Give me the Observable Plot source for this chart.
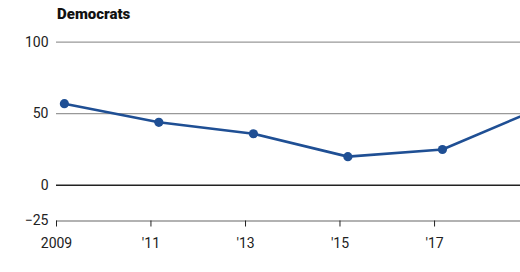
<!DOCTYPE html>
<html>
<head>
<meta charset="utf-8">
<script src="https://cdn.jsdelivr.net/npm/d3@7"></script>
<script src="https://cdn.jsdelivr.net/npm/@observablehq/plot@0.6"></script>
<style>
  html, body { margin: 0; padding: 0; overflow: hidden; background: #fff; }
  #wrap { width: 520px; height: 272px; overflow: hidden; position: relative; }
  #title { height: 24px; line-height: 29px; padding-left: 57px; font-family: Roboto, "Liberation Sans", sans-serif; font-weight: 900; font-size: 15px; color: #111; white-space: nowrap; }
  #chart svg { display: block; max-width: none !important; width: 560px !important; height: 248px !important; }
</style>
</head>
<body>
<div id="wrap">
  <div id="title">Democrats</div>
  <div id="chart"></div>
</div>
<script>
// Data
const surveyDates = ["2009-03-03", "2011-03-03", "2013-03-03", "2015-03-03", "2017-03-03", "2019-03-03"];
const democrats = [57, 44, 36, 20, 25, 53];
const xTickYears = [2009, 2011, 2013, 2015, 2017, 2019];
const xTickLabels = ["2009", "'11", "'13", "'15", "'17", "'19"];
const yTicks = [-25, 0, 50, 100];
const gridValues = [50, 100];
const zeroValue = [0];

const data = surveyDates.map((d, i) => ({date: new Date(d + "T00:00:00Z"), value: democrats[i]}));
const xTickDates = xTickYears.map(y => new Date(Date.UTC(y, 0, 1)));

const lineColor = "#1f4f94";
const font = "Roboto, 'Liberation Sans', sans-serif";

const chart = Plot.plot({
  width: 560,
  height: 248,
  marginLeft: 56,
  marginRight: 31.5,
  marginTop: 17.7,
  marginBottom: 51.5,
  style: { fontFamily: font, fontSize: "14px", color: "#222", background: "transparent", overflow: "visible" },
  x: { type: "utc", domain: [xTickDates[0], xTickDates[xTickDates.length - 1]] },
  y: { domain: [-25, 100] },
  marks: [
    Plot.ruleY(gridValues, { stroke: "#999", strokeWidth: 1.3 }),
    Plot.ruleY([-25], { stroke: "#999", strokeWidth: 1.3 }),
    Plot.ruleY(zeroValue, { stroke: "#222", strokeWidth: 1.3 }),
    Plot.axisY({ ticks: yTicks, tickSize: 0, tickPadding: 8, label: null, fontSize: 14 }),
    Plot.axisX({ ticks: xTickDates, tickFormat: (d, i) => xTickLabels[xTickDates.findIndex(t => +t === +d)], tickSize: 6, tickPadding: 11, label: null, fontSize: 14, stroke: "#222" }),
    Plot.line(data, { x: "date", y: "value", stroke: lineColor, strokeWidth: 2.6 }),
    Plot.dot(data, { x: "date", y: "value", fill: lineColor, r: 4.6 })
  ]
});
document.getElementById("chart").appendChild(chart);
</script>
</body>
</html>
